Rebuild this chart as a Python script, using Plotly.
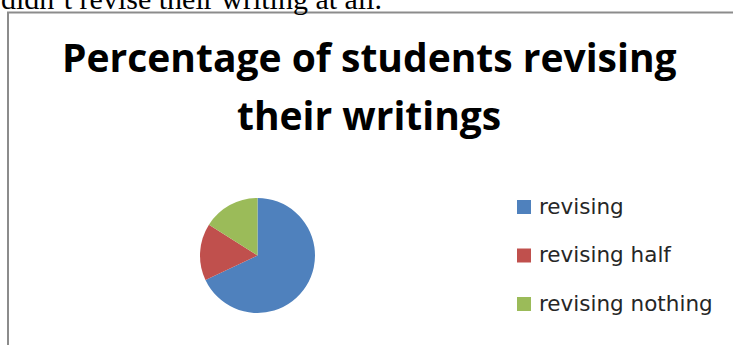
import plotly.graph_objects as go

W, H = 733, 345

# ---- data ----
labels = ["revising", "revising half", "revising nothing"]
values = [68, 16, 16]
colors = ["#4F81BD", "#C0504D", "#9BBB59"]
title_lines = ["Percentage of students revising", "their writings"]
caption = "didn\u2019t revise their writing at all."


def px(x):
    return x / W


def py(y):
    return 1 - y / H


fig = go.Figure()
fig.add_trace(go.Pie(
    labels=labels,
    values=values,
    marker=dict(colors=colors, line=dict(width=0)),
    sort=False,
    direction="clockwise",
    rotation=0,
    textinfo="none",
    hoverinfo="skip",
    showlegend=False,
    domain=dict(x=[px(200), px(315)], y=[py(313), py(198)]),
))

shapes = []
annotations = []

# document border (partially visible frame)
shapes.append(dict(type="rect", xref="paper", yref="paper",
                   x0=px(8), x1=px(760), y0=py(380), y1=py(12.5),
                   line=dict(color="#8c8c8c", width=2), fillcolor="rgba(0,0,0,0)"))

# caption text cut off at top
annotations.append(dict(text=caption, xref="paper", yref="paper",
                        x=px(-1), y=py(-1), xanchor="left", yanchor="middle",
                        showarrow=False,
                        font=dict(family="Liberation Serif", size=30, color="#000000")))

# title lines
for i, line in enumerate(title_lines):
    annotations.append(dict(text="<b>%s</b>" % line, xref="paper", yref="paper",
                            x=px(369), y=py(57 + i * 57), xanchor="center", yanchor="middle",
                            showarrow=False,
                            font=dict(family="Open Sans", size=39, color="#000000")))

# manual legend
for i, (lab, col) in enumerate(zip(labels, colors)):
    cy = 207 + i * 48.5
    shapes.append(dict(type="rect", xref="paper", yref="paper",
                       x0=px(517), x1=px(531), y0=py(cy + 7), y1=py(cy - 7),
                       line=dict(width=0), fillcolor=col))
    annotations.append(dict(text=lab, xref="paper", yref="paper",
                            x=px(537), y=py(cy - 1), xanchor="left", yanchor="middle",
                            showarrow=False,
                            font=dict(family="DejaVu Sans", size=21.5, color="#262626")))

fig.update_layout(
    width=W, height=H,
    margin=dict(l=0, r=0, t=0, b=0),
    paper_bgcolor="white",
    plot_bgcolor="white",
    shapes=shapes,
    annotations=annotations,
)

fig.write_html("out.html", config={"displayModeBar": False},
               post_script="document.body.style.margin='0';document.body.style.overflow='hidden';")
